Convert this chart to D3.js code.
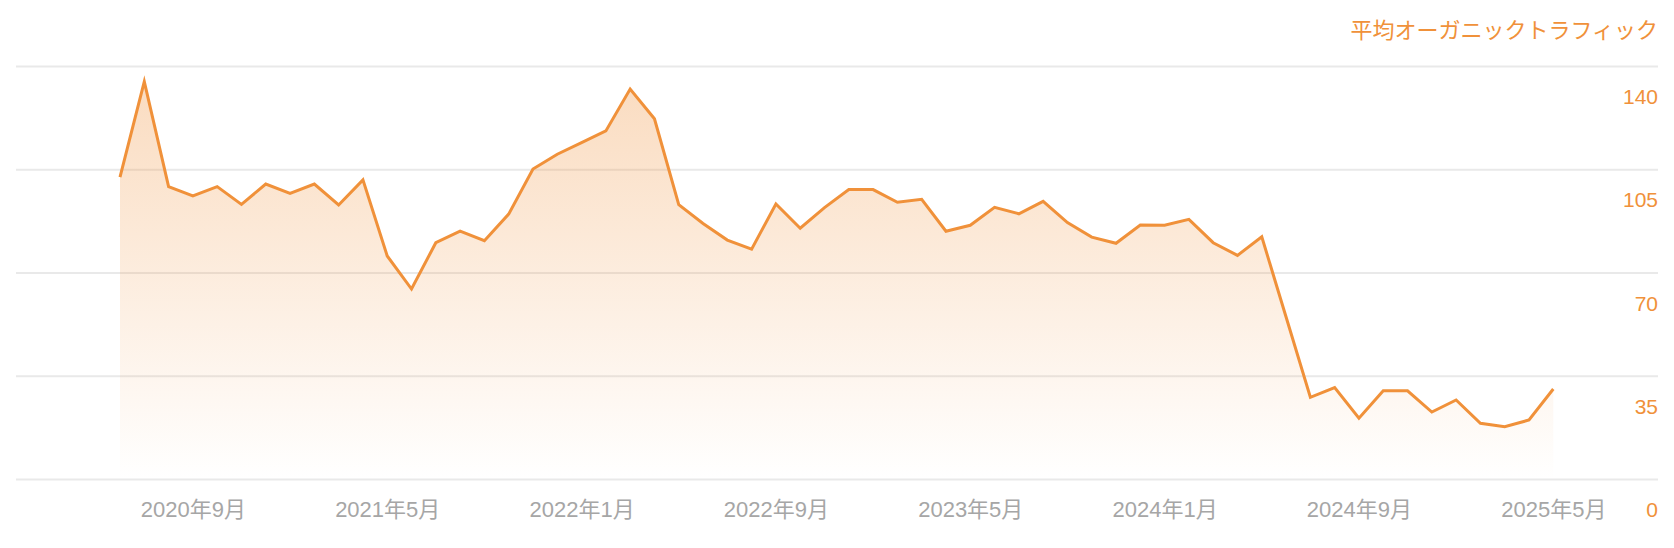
<!DOCTYPE html>
<html>
<head>
<meta charset="utf-8">
<script src="https://cdn.jsdelivr.net/npm/d3@7"></script>
<style>
  html, body { margin: 0; padding: 0; background: #ffffff; }
  svg { display: block; }
  text { font-family: "Liberation Sans", Arial, "Noto Sans CJK JP", sans-serif; }
</style>
</head>
<body>
<svg id="chart" width="1674" height="548"></svg>
<script>
// ---- data ----
const months = [
  "2020-06","2020-07","2020-08","2020-09","2020-10","2020-11","2020-12",
  "2021-01","2021-02","2021-03","2021-04","2021-05","2021-06","2021-07","2021-08","2021-09","2021-10","2021-11","2021-12",
  "2022-01","2022-02","2022-03","2022-04","2022-05","2022-06","2022-07","2022-08","2022-09","2022-10","2022-11","2022-12",
  "2023-01","2023-02","2023-03","2023-04","2023-05","2023-06","2023-07","2023-08","2023-09","2023-10","2023-11","2023-12",
  "2024-01","2024-02","2024-03","2024-04","2024-05","2024-06","2024-07","2024-08","2024-09","2024-10","2024-11","2024-12",
  "2025-01","2025-02","2025-03","2025-04","2025-05"
];
const traffic = [
  102.3, 134.7, 99.1, 96.0, 99.1, 93.1, 100.0,
  96.8, 100.0, 92.9, 101.4, 75.6, 64.4, 80.1, 84.0, 80.8, 89.8, 105.1, 110.1,
  114.0, 118.0, 132.2, 122.1, 93.0, 86.6, 81.0, 77.9, 93.2, 85.0, 92.0, 98.1,
  98.1, 93.8, 94.8, 84.0, 86.0, 92.1, 89.9, 94.1, 86.9, 82.0, 79.9, 86.1,
  86.0, 88.0, 80.1, 75.8, 82.1, 54.9, 27.7, 31.0, 20.6, 29.9, 29.9, 22.7,
  26.8, 18.9, 17.7, 20.0, 30.5
];
const xTickMonths = ["2020-09","2021-05","2022-01","2022-09","2023-05","2024-01","2024-09","2025-05"];
const xTickLabels = ["2020年9月","2021年5月","2022年1月","2022年9月","2023年5月","2024年1月","2024年9月","2025年5月"];
const yTicks = [0, 35, 70, 105, 140];
const seriesTitle = "平均オーガニックトラフィック";

// ---- layout ----
const gridLeft = 16, gridRight = 1658;
const plotTop = 66, plotBottom = 479;
const orange = "#f0913a";

const svg = d3.select("#chart");

const x = d3.scalePoint().domain(months).range([120, 1553.3]);
const y = d3.scaleLinear().domain([0, 140]).range([plotBottom, plotTop]);

const data = months.map((m, i) => ({ m, v: traffic[i] }));

// gradient
const defs = svg.append("defs");
const grad = defs.append("linearGradient")
  .attr("id", "areaGrad")
  .attr("gradientUnits", "userSpaceOnUse")
  .attr("x1", 0).attr("x2", 0)
  .attr("y1", y(140)).attr("y2", y(0));
grad.append("stop").attr("offset", "0%").attr("stop-color", orange).attr("stop-opacity", 0.33);
grad.append("stop").attr("offset", "50%").attr("stop-color", orange).attr("stop-opacity", 0.17);
grad.append("stop").attr("offset", "100%").attr("stop-color", orange).attr("stop-opacity", 0.0);

// gridlines + y labels (axis on the right)
const yAxis = d3.axisRight(y)
  .tickValues(yTicks)
  .tickSize(-(gridRight - gridLeft))
  .tickFormat(d3.format("d"));
const gy = svg.append("g")
  .attr("transform", `translate(${gridRight},0)`)
  .call(yAxis);
gy.select(".domain").remove();
gy.selectAll(".tick line")
  .attr("stroke", "#e9e9e9")
  .attr("stroke-width", 2);
gy.selectAll(".tick text")
  .attr("x", 0)
  .attr("y", 37.5)
  .attr("dy", 0)
  .attr("text-anchor", "end")
  .attr("fill", orange)
  .attr("font-size", 21);

// area
const area = d3.area()
  .x(d => x(d.m))
  .y0(y(0))
  .y1(d => y(d.v));
svg.append("path")
  .datum(data)
  .attr("d", area)
  .attr("fill", "url(#areaGrad)");

// line
const line = d3.line()
  .x(d => x(d.m))
  .y(d => y(d.v));
svg.append("path")
  .datum(data)
  .attr("d", line)
  .attr("fill", "none")
  .attr("stroke", orange)
  .attr("stroke-width", 3)
  .attr("stroke-linejoin", "miter")
  .attr("stroke-miterlimit", 10);

// x axis labels
const labelMap = new Map(xTickMonths.map((m, i) => [m, xTickLabels[i]]));
const xAxis = d3.axisBottom(x)
  .tickValues(xTickMonths)
  .tickSize(0)
  .tickPadding(0)
  .tickFormat(m => labelMap.get(m));
const gx = svg.append("g")
  .attr("transform", `translate(0,${plotBottom})`)
  .call(xAxis);
gx.select(".domain").remove();
gx.selectAll(".tick text")
  .attr("y", 37.5)
  .attr("dy", 0)
  .attr("fill", "#a6a6a6")
  .attr("font-size", 22);

// series title
svg.append("text")
  .attr("x", gridRight)
  .attr("y", 38)
  .attr("text-anchor", "end")
  .attr("fill", orange)
  .attr("font-size", 22)
  .text(seriesTitle);
</script>
</body>
</html>
